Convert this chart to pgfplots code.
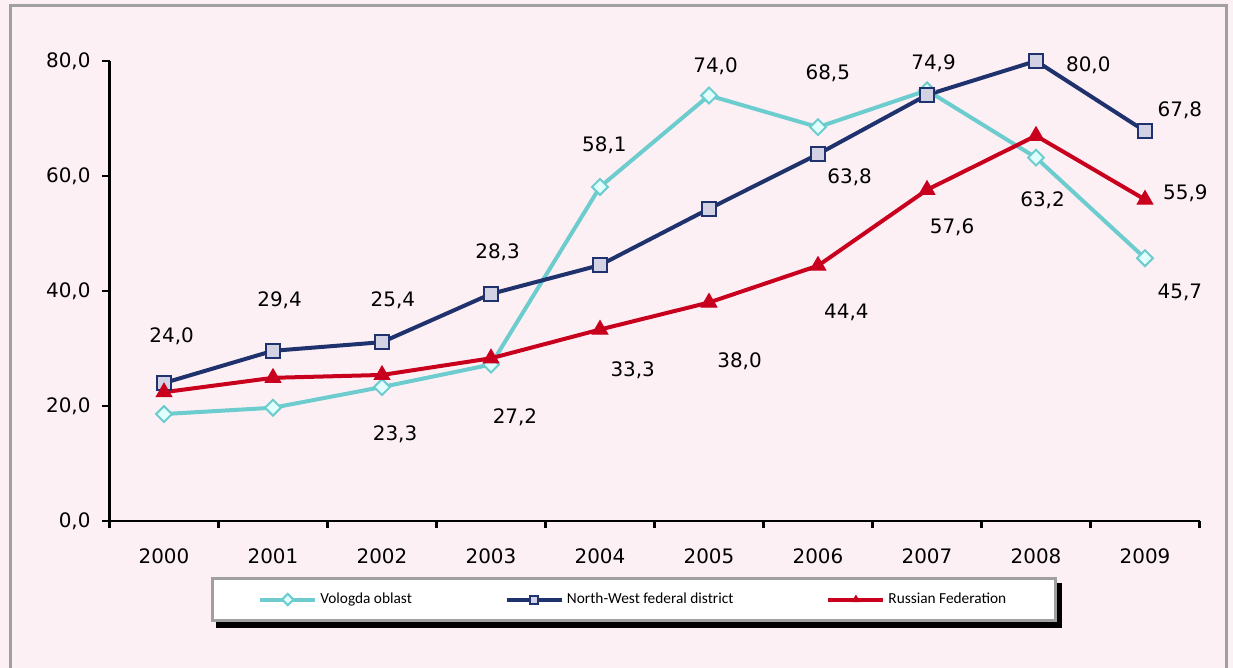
\documentclass[border=0pt]{standalone}
\usepackage{fontspec}
\setmainfont{DejaVu Sans}
\newfontfamily\legfont{Carlito}
\usepackage{pgfplots}
\pgfplotsset{compat=1.18}
\definecolor{bgpink}{RGB}{253,240,245}
\definecolor{framegray}{RGB}{160,160,160}
\definecolor{vcyan}{RGB}{108,204,206}
\definecolor{vfill}{RGB}{225,255,255}
\definecolor{nwnavy}{RGB}{31,50,110}
\definecolor{nwfill}{RGB}{210,210,228}
\definecolor{rfred}{RGB}{200,0,30}
\pgfdeclarelayer{bg}
\pgfsetlayers{bg,main}
\begin{document}
\begin{tikzpicture}[font=\fontsize{10}{12}\selectfont]
\useasboundingbox (0,0) rectangle (616.5bp,334bp);
\begin{pgfonlayer}{bg}
\fill[bgpink] (0,0) rectangle (616.5bp,334bp);
\end{pgfonlayer}
\draw[framegray, line width=1.5bp] (5bp,-2bp) -- (5bp,331bp) -- (613bp,331bp) -- (613bp,-2bp);
\begin{axis}[
  at={(54.75bp,73.5bp)}, anchor=south west,
  scale only axis, width=545bp, height=230bp,
  xmin=-0.5, xmax=9.5, ymin=0, ymax=80,
  axis lines*=left,
  axis line style={line width=1.2bp, black},
  clip=false,
  xtick={-0.5,0.5,...,9.5},
  x tick label as interval,
  xticklabels={2000,2001,2002,2003,2004,2005,2006,2007,2008,2009},
  xticklabel style={yshift=-7bp},
  ytick={0,20,40,60,80},
  major tick length=3.5bp, tick align=outside,
  tick style={black, line width=1.2bp},
  /pgf/number format/assume math mode=true,
  yticklabel style={xshift=-2.5bp, /pgf/number format/.cd, fixed, fixed zerofill, precision=1, use comma},
  ticklabel style={font=\fontsize{10}{12}\selectfont},
  legend columns=3,
  legend cell align=left,
  legend image code/.code={\draw[mark repeat=2,mark phase=2,#1,mark size=2bp] plot coordinates {(0bp,0bp) (13.75bp,0bp) (27.5bp,0bp)};},
  legend style={name=L, at={(0.481,-0.1707)}, anchor=center,
    fill=white, draw=framegray, line width=1.5bp,
    font=\legfont\fontsize{7.7}{9}\selectfont,
    inner xsep=23bp, inner ysep=5.75bp,
    nodes={inner xsep=1.5bp, inner ysep=1.5bp},
    /tikz/every even column/.append style={column sep=45bp}},
]
\addplot[vcyan, line width=2bp, mark=square*, mark size=2.8bp,
  mark options={rotate=45, fill=vfill, draw=vcyan, line width=1bp}]
  coordinates {(0,18.6) (1,19.7) (2,23.3) (3,27.2) (4,58.1) (5,74.0) (6,68.5) (7,74.9) (8,63.2) (9,45.7)};
\addplot[nwnavy, line width=2bp, mark=square*, mark size=3.5bp,
  mark options={fill=nwfill, draw=nwnavy, line width=1bp}]
  coordinates {(0,24.0) (1,29.6) (2,31.1) (3,39.5) (4,44.5) (5,54.3) (6,63.8) (7,74.1) (8,80.0) (9,67.8)};
\addplot[rfred, line width=2bp, mark=triangle*, mark size=4.5bp,
  mark options={fill=rfred, draw=rfred, line width=0.5bp}]
  coordinates {(0,22.4) (1,24.9) (2,25.4) (3,28.3) (4,33.3) (5,38.0) (6,44.4) (7,57.6) (8,67.0) (9,55.9)};
\legend{Vologda oblast, North-West federal district, Russian Federation}
\node at (axis cs:0.07,32.2) {24,0};
\node at (axis cs:1.06,38.4) {29,4};
\node at (axis cs:2.10,38.4) {25,4};
\node at (axis cs:2.12,15.1) {23,3};
\node at (axis cs:3.06,46.8) {28,3};
\node at (axis cs:3.22,18.1) {27,2};
\node at (axis cs:4.04,65.4) {58,1};
\node at (axis cs:4.30,26.3) {33,3};
\node at (axis cs:5.06,79.0) {74,0};
\node at (axis cs:5.28,27.7) {38,0};
\node at (axis cs:6.09,77.9) {68,5};
\node at (axis cs:6.29,59.7) {63,8};
\node at (axis cs:6.26,36.3) {44,4};
\node at (axis cs:7.06,79.6) {74,9};
\node at (axis cs:7.23,51.0) {57,6};
\node at (axis cs:8.48,79.3) {80,0};
\node at (axis cs:8.06,55.8) {63,2};
\node at (axis cs:9.32,71.5) {67,8};
\node at (axis cs:9.37,57.0) {55,9};
\node at (axis cs:9.32,39.8) {45,7};
\end{axis}
\begin{pgfonlayer}{bg}
\fill[black] ([shift={(2.5bp,-3bp)}]L.south west) rectangle ([shift={(2.5bp,-3bp)}]L.north east);
\end{pgfonlayer}
\end{tikzpicture}
\end{document}
